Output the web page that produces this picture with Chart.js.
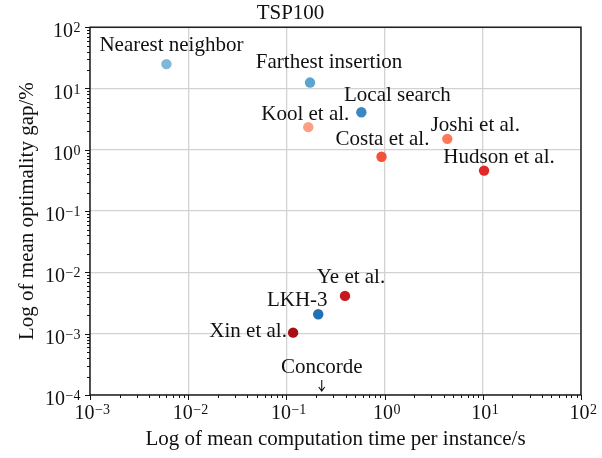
<!DOCTYPE html>
<html>
<head>
<meta charset="utf-8">
<script src="https://cdn.jsdelivr.net/npm/chart.js@4.4.1/dist/chart.umd.min.js"></script>
<style>
  html, body { margin: 0; padding: 0; background: #fff; }
  #wrap { width: 602px; height: 458px; }
</style>
</head>
<body>
<div id="wrap"><canvas id="tsp"></canvas></div>
<script>
// TSP100: mean time per instance (s) vs mean optimality gap (%)
const methods = ["Nearest neighbor", "Farthest insertion", "Local search", "Kool et al.",
  "Costa et al.", "Joshi et al.", "Hudson et al.", "Ye et al.", "LKH-3", "Xin et al."];
const timeSec = [0.006, 0.174, 0.58, 0.167, 0.93, 4.35, 10.3, 0.395, 0.211, 0.117];
const gapPct = [25, 12.5, 4.1, 2.34, 0.77, 1.51, 0.458, 0.00414, 0.00208, 0.00104];
const concordeTime = 0.229; // gap is 0, shown as an arrow at the bottom
const xExps = [-3, -2, -1, 0, 1, 2];
const yExps = [-4, -3, -2, -1, 0, 1, 2];

const dotColors = ["#7fb9da", "#5ba3d0", "#3a87c1", "#fca083", "#f4513a", "#fb7a5a",
  "#e1292a", "#c9181d", "#2171b5", "#a50f15"];
// text centre offset from the dot, px
const labelOffsets = [[5, -19], [19, -20], [36, -17], [-3, -13], [1, -17], [28, -13],
  [15, -13], [6, -18], [-21, -14], [-45, -1]];

const serif = "'Liberation Serif', 'DejaVu Serif', serif";

function logTicks(exps) {
  let out = [];
  for (let i = 0; i < exps.length; i++) {
    let base = Math.pow(10, exps[i]);
    out.push({ value: base, major: true, exp: exps[i] });
    if (i < exps.length - 1) {
      for (let k = 2; k <= 9; k++) out.push({ value: k * base, major: false });
    }
  }
  return out;
}

// draws "10" with a raised exponent; align is "center" or "right"
function drawPow(c, e, x, baseline, align) {
  let expStr = String(e).replace("-", "\u2212");
  c.font = "20px " + serif;
  let w1 = c.measureText("10").width;
  c.font = "14px " + serif;
  let w2 = c.measureText(expStr).width;
  let left = align === "right" ? x - w1 - w2 : x - (w1 + w2) / 2;
  c.textAlign = "left";
  c.textBaseline = "alphabetic";
  c.font = "20px " + serif;
  c.fillText("10", left, baseline);
  c.font = "14px " + serif;
  c.fillText(expStr, left + w1 + 0.5, baseline - 5);
}

const decor = {
  id: "decor",
  afterDraw(chart) {
    const c = chart.ctx;
    const a = chart.chartArea;
    const xs = chart.scales.x, ys = chart.scales.y;
    c.save();
    // frame
    c.strokeStyle = "#111";
    c.lineWidth = 1.4;
    c.strokeRect(a.left, a.top, a.right - a.left, a.bottom - a.top);
    // tick marks, outward
    c.lineWidth = 1;
    xs.ticks.forEach(t => {
      let px = Math.round(xs.getPixelForValue(t.value)) + 0.5;
      let len = t.major ? 5 : 3;
      c.beginPath(); c.moveTo(px, a.bottom); c.lineTo(px, a.bottom + len); c.stroke();
    });
    ys.ticks.forEach(t => {
      let py = Math.round(ys.getPixelForValue(t.value)) + 0.5;
      let len = t.major ? 5 : 3;
      c.beginPath(); c.moveTo(a.left, py); c.lineTo(a.left - len, py); c.stroke();
    });
    // tick labels
    c.fillStyle = "#111";
    xs.ticks.filter(t => t.major).forEach(t => {
      drawPow(c, t.exp, xs.getPixelForValue(t.value) + 2, a.bottom + 24, "center");
    });
    ys.ticks.filter(t => t.major).forEach(t => {
      drawPow(c, t.exp, a.left - 10, ys.getPixelForValue(t.value) + 10, "right");
    });
    // point labels
    c.font = "21px " + serif;
    c.textAlign = "center";
    c.textBaseline = "middle";
    const meta = chart.getDatasetMeta(0);
    meta.data.forEach((pt, i) => {
      c.fillText(methods[i], pt.x + labelOffsets[i][0], pt.y + labelOffsets[i][1]);
    });
    // Concorde arrow
    let cx = xs.getPixelForValue(concordeTime);
    let by = a.bottom;
    c.fillText("Concorde", cx, by - 28);
    c.strokeStyle = "#111";
    c.lineWidth = 1.1;
    c.beginPath();
    c.moveTo(cx, by - 15); c.lineTo(cx, by - 4);
    c.moveTo(cx - 3, by - 8); c.lineTo(cx, by - 4); c.lineTo(cx + 3, by - 8);
    c.stroke();
    c.restore();
  }
};

const gridColor = ctx => (ctx.tick && ctx.tick.major) ? "#d2d2d2" : "rgba(0,0,0,0)";

new Chart(document.getElementById("tsp"), {
  type: "scatter",
  data: {
    datasets: [{
      label: "TSP100",
      data: timeSec.map((t, i) => ({ x: t, y: gapPct[i] })),
      backgroundColor: dotColors,
      borderWidth: 0,
      pointRadius: 5.2,
      pointHoverRadius: 5.2
    }]
  },
  options: {
    responsive: true,
    maintainAspectRatio: false,
    animation: false,
    layout: { padding: { left: 0, right: 21, top: 0, bottom: 0 } },
    plugins: {
      legend: { display: false },
      tooltip: { enabled: false },
      title: {
        display: true,
        text: "TSP100",
        color: "#111",
        font: { family: serif, size: 21, weight: "normal" },
        padding: { top: 1, bottom: 1 }
      }
    },
    scales: {
      x: {
        type: "logarithmic",
        min: Math.pow(10, xExps[0]),
        max: Math.pow(10, xExps[xExps.length - 1]),
        afterBuildTicks: s => { s.ticks = logTicks(xExps); },
        afterFit: s => { s.height = 63; },
        grid: { color: gridColor, lineWidth: 1.3, drawTicks: false },
        border: { display: false },
        ticks: { display: false, autoSkip: false },
        title: {
          display: true,
          text: "Log of mean computation time per instance/s",
          color: "#111",
          font: { family: serif, size: 21 },
          padding: { top: 0, bottom: 6 }
        }
      },
      y: {
        type: "logarithmic",
        min: Math.pow(10, yExps[0]),
        max: Math.pow(10, yExps[yExps.length - 1]),
        afterBuildTicks: s => { s.ticks = logTicks(yExps); },
        afterFit: s => { s.width = 90; },
        grid: { color: gridColor, lineWidth: 1.3, drawTicks: false },
        border: { display: false },
        ticks: { display: false, autoSkip: false },
        title: {
          display: true,
          text: "Log of mean optimality gap/%",
          color: "#111",
          font: { family: serif, size: 21 },
          padding: { top: 15, bottom: 0 }
        }
      }
    }
  },
  plugins: [decor]
});
</script>
</body>
</html>
